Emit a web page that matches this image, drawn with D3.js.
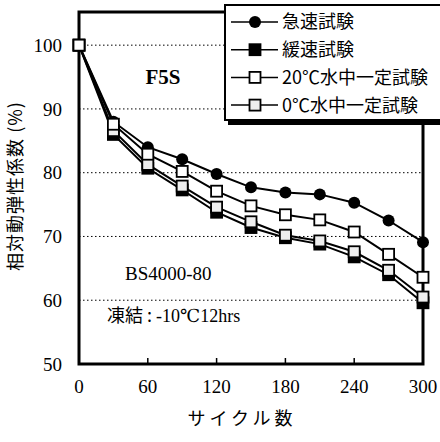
<!DOCTYPE html>
<html>
<head>
<meta charset="utf-8">
<script src="https://cdn.jsdelivr.net/npm/d3@7"></script>
<style>
  body { margin: 0; background: #fff; }
  svg { display: block; }
</style>
</head>
<body>
<div id="chart"></div>
<script>
const cycles = [0, 30, 60, 90, 120, 150, 180, 210, 240, 270, 300];
const rapid  = [100, 88.0, 84.0, 82.1, 79.8, 77.7, 76.9, 76.6, 75.3, 72.5, 69.1];
const slow   = [100, 86.0, 80.7, 77.3, 73.8, 71.4, 69.8, 68.8, 66.8, 64.0, 59.6];
const water20 = [100, 87.6, 82.9, 80.2, 77.1, 74.8, 73.4, 72.6, 70.7, 67.2, 63.6];
const water0  = [100, 86.6, 81.3, 77.9, 74.6, 72.3, 70.2, 69.3, 67.6, 64.7, 60.5];
const seriesNames = ['急速試験', '緩速試験', '20℃水中一定試験', '0℃水中一定試験'];
const xTicks = [0, 60, 120, 180, 240, 300];
const yTicks = [50, 60, 70, 80, 90, 100];

const W = 440, H = 442;
const margin = {left: 79, right: 17, top: 12, bottom: 78};
const serif = '"Liberation Serif", "DejaVu Serif", serif';
const cjk = '"Noto Sans CJK JP", sans-serif';

const x = d3.scaleLinear().domain([0, 300]).range([margin.left, W - margin.right]);
const y = d3.scaleLinear().domain([50, 105.2]).range([H - margin.bottom, margin.top]);

const svg = d3.select('#chart').append('svg')
    .attr('width', W).attr('height', H);

// dotted grid
svg.append('g').selectAll('line')
    .data(yTicks.filter(d => d > 50))
    .join('line')
    .attr('x1', x(0)).attr('x2', x(300))
    .attr('y1', d => y(d)).attr('y2', d => y(d))
    .attr('stroke', '#000').attr('stroke-width', 1)
    .attr('stroke-dasharray', '1.5,2.5');

// inner x ticks along the bottom
svg.append('g').selectAll('line')
    .data(xTicks.slice(1, -1))
    .join('line')
    .attr('x1', d => x(d)).attr('x2', d => x(d))
    .attr('y1', y(50)).attr('y2', y(50) - 6)
    .attr('stroke', '#000').attr('stroke-width', 1.5);

// frame
svg.append('rect')
    .attr('x', x(0)).attr('y', y(105.2))
    .attr('width', x(300) - x(0)).attr('height', y(50) - y(105.2))
    .attr('fill', 'none').attr('stroke', '#000').attr('stroke-width', 3);

// tick labels
svg.append('g').selectAll('text')
    .data(yTicks)
    .join('text')
    .attr('x', x(0) - 17).attr('y', d => y(d))
    .attr('dy', '0.35em')
    .attr('text-anchor', 'end')
    .attr('font-family', serif).attr('font-size', 19)
    .text(d => d);

svg.append('g').selectAll('text')
    .data(xTicks)
    .join('text')
    .attr('x', d => x(d)).attr('y', 393)
    .attr('text-anchor', 'middle')
    .attr('font-family', serif).attr('font-size', 19)
    .text(d => d);

// axis titles
svg.append('text')
    .attr('x', 242).attr('y', 425)
    .attr('text-anchor', 'middle')
    .attr('font-family', cjk).attr('font-size', 18)
    .attr('letter-spacing', 4)
    .text('サイクル数');

svg.append('text')
    .attr('transform', 'translate(22,186) rotate(-90)')
    .attr('text-anchor', 'middle')
    .attr('font-family', cjk).attr('font-size', 18)
    .attr('letter-spacing', 1)
    .text('相対動弾性係数 (%)');

// annotations
svg.append('text')
    .attr('x', 163).attr('y', 84)
    .attr('text-anchor', 'middle')
    .attr('font-family', serif).attr('font-weight', 'bold').attr('font-size', 21)
    .text('F5S');

svg.append('text')
    .attr('x', 125).attr('y', 280)
    .attr('font-family', serif).attr('font-size', 19)
    .text('BS4000-80');

const note = svg.append('text')
    .attr('x', 107).attr('y', 322)
    .attr('font-size', 18);
note.append('tspan').attr('font-family', cjk).text('凍結 : ');
note.append('tspan').attr('font-family', serif).text('-10℃12hrs');

// series, drawn so the open squares sit on top
const series = [
    {name: seriesNames[0], values: rapid, shape: 'circle', fill: '#000'},
    {name: seriesNames[1], values: slow, shape: 'square', fill: '#000'},
    {name: seriesNames[3], values: water0, shape: 'square', fill: '#eeeeee'},
    {name: seriesNames[2], values: water20, shape: 'square', fill: '#fff'}
];

const line = d3.line().x(d => x(d[0])).y(d => y(d[1]));

function drawMarker(g, shape, fill, cx, cy) {
    if (shape === 'circle') {
        g.append('circle').attr('cx', cx).attr('cy', cy).attr('r', 6)
            .attr('fill', fill);
    } else {
        g.append('rect').attr('x', cx - 5.5).attr('y', cy - 5.5)
            .attr('width', 11).attr('height', 11)
            .attr('fill', fill).attr('stroke', '#000').attr('stroke-width', 1.8);
    }
}

series.forEach(s => {
    const pts = cycles.map((c, i) => [c, s.values[i]]);
    const g = svg.append('g');
    g.append('path').attr('d', line(pts))
        .attr('fill', 'none').attr('stroke', '#000').attr('stroke-width', 2);
    pts.forEach(p => drawMarker(g, s.shape, s.fill, x(p[0]), y(p[1])));
});

// legend
const leg = svg.append('g');
leg.append('rect').attr('x', 228).attr('y', 9).attr('width', 230).attr('height', 116)
    .attr('fill', '#000');
leg.append('rect').attr('x', 225).attr('y', 5).attr('width', 230).attr('height', 115)
    .attr('fill', '#fff').attr('stroke', '#000').attr('stroke-width', 2);

const legendOrder = [
    {name: seriesNames[0], shape: 'circle', fill: '#000'},
    {name: seriesNames[1], shape: 'square', fill: '#000'},
    {name: seriesNames[2], shape: 'square', fill: '#fff'},
    {name: seriesNames[3], shape: 'square', fill: '#eeeeee'}
];
legendOrder.forEach((s, i) => {
    const ly = 22 + i * 27.7;
    const g = leg.append('g');
    g.append('line').attr('x1', 231).attr('x2', 278).attr('y1', ly).attr('y2', ly)
        .attr('stroke', '#000').attr('stroke-width', 1.5);
    drawMarker(g, s.shape, s.fill, 255, ly);
    g.append('text').attr('x', 282).attr('y', ly).attr('dy', '0.36em')
        .attr('font-family', cjk).attr('font-size', 18)
        .text(s.name);
});
</script>
</body>
</html>
